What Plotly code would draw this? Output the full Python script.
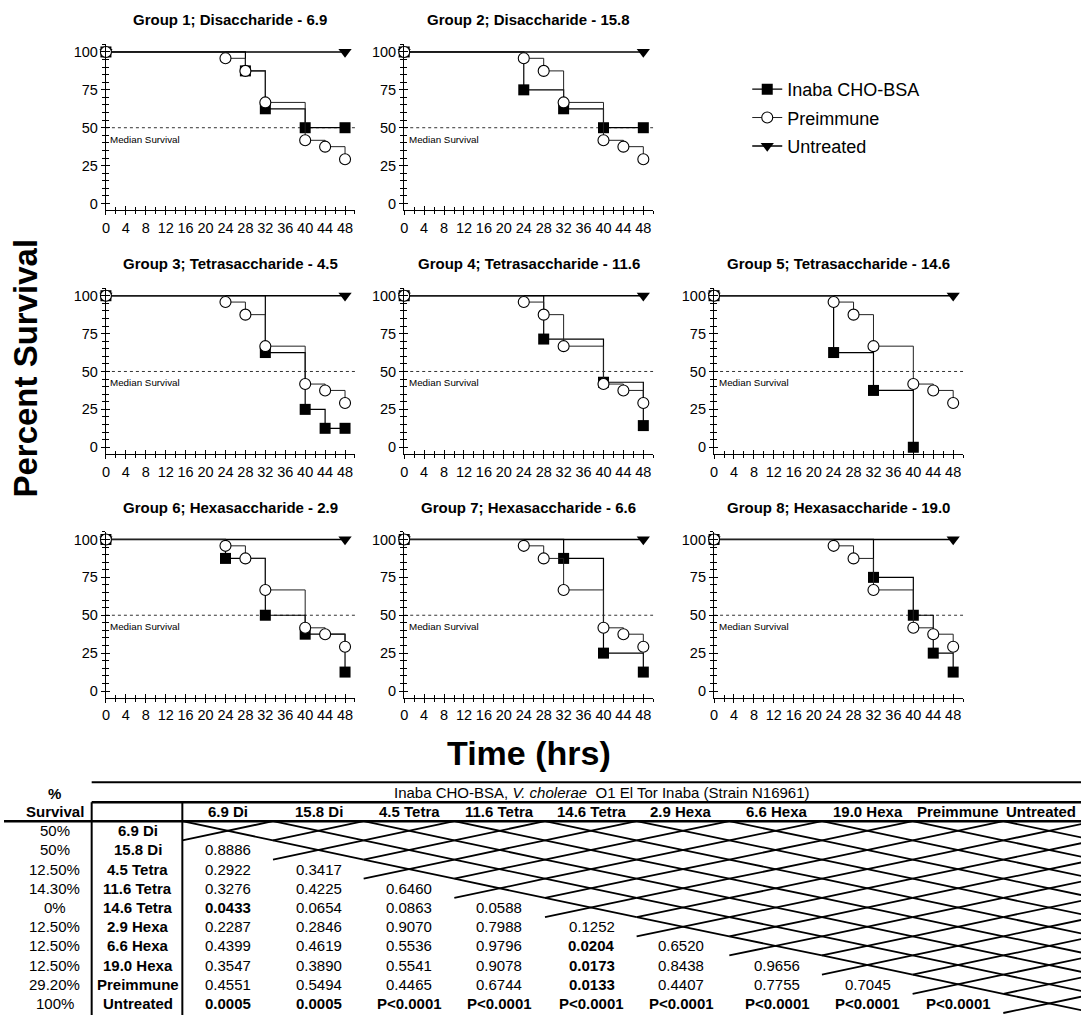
import plotly.graph_objects as go

W, H = 1081, 1015
FONT = "Liberation Sans, Arial, Helvetica, sans-serif"

# ---------------- data ----------------
group_titles = ["Group 1; Disaccharide - 6.9", "Group 2; Disaccharide - 15.8",
                "Group 3; Tetrasaccharide - 4.5", "Group 4; Tetrasaccharide - 11.6",
                "Group 5; Tetrasaccharide - 14.6", "Group 6; Hexasaccharide - 2.9",
                "Group 7; Hexasaccharide - 6.6", "Group 8; Hexasaccharide - 19.0"]

inaba_times = [[0, 28, 32, 40, 48], [0, 24, 32, 40, 48], [0, 32, 40, 44, 48], [0, 28, 40, 48],
               [0, 24, 32, 40], [0, 24, 32, 40, 48], [0, 32, 40, 48], [0, 32, 40, 44, 48]]
inaba_surv = [[100, 87.5, 62.5, 50, 50], [100, 75, 62.5, 50, 50], [100, 62.5, 25, 12.5, 12.5],
              [100, 71.4, 42.9, 14.3], [100, 62.5, 37.5, 0], [100, 87.5, 50, 37.5, 12.5],
              [100, 87.5, 25, 12.5], [100, 75, 50, 25, 12.5]]
pre_times = [0, 24, 28, 32, 40, 44, 48]
pre_surv = [100, 95.8, 87.5, 66.7, 41.7, 37.5, 29.2]
untreated_times = [0, 48]
untreated_surv = [100, 100]

series_names = ["Inaba CHO-BSA", "Preimmune", "Untreated"]

table_title = "Inaba CHO-BSA, <i>V. cholerae</i>  O1 El Tor Inaba (Strain N16961)"
table_groups = ["6.9 Di", "15.8 Di", "4.5 Tetra", "11.6 Tetra", "14.6 Tetra",
                "2.9 Hexa", "6.6 Hexa", "19.0 Hexa", "Preimmune", "Untreated"]
pct_survival = ["50%", "50%", "12.50%", "14.30%", "0%", "12.50%", "12.50%", "12.50%", "29.20%", "100%"]
p_values = [
    [],
    ["0.8886"],
    ["0.2922", "0.3417"],
    ["0.3276", "0.4225", "0.6460"],
    ["0.0433", "0.0654", "0.0863", "0.0588"],
    ["0.2287", "0.2846", "0.9070", "0.7988", "0.1252"],
    ["0.4399", "0.4619", "0.5536", "0.9796", "0.0204", "0.6520"],
    ["0.3547", "0.3890", "0.5541", "0.9078", "0.0173", "0.8438", "0.9656"],
    ["0.4551", "0.5494", "0.4465", "0.6744", "0.0133", "0.4407", "0.7755", "0.7045"],
    ["0.0005", "0.0005", "P<0.0001", "P<0.0001", "P<0.0001", "P<0.0001", "P<0.0001", "P<0.0001", "P<0.0001"],
]

# ---------------- layout geometry ----------------
panel_cells = [(0, 0), (0, 1), (1, 0), (1, 1), (1, 2), (2, 0), (2, 1), (2, 2)]
col_x0 = [102.3, 401.7, 712.7]
row_y100 = [52.0, 296.0, 540.0]
PX_HR = 5.0
PX_PCT = 1.517
XR = [0, 50]
YR = [-4.5, 105]


def px(x):
    return x / W


def py(y):
    return 1 - y / H


fig = go.Figure()
layout = {}
shapes = []
annotations = []

for k, (r, c) in enumerate(panel_cells, start=1):
    x0 = col_x0[c]
    x1 = x0 + (XR[1] - XR[0]) * PX_HR
    ytop = row_y100[r] - (YR[1] - 100) * PX_PCT
    ybot = row_y100[r] + (100 - YR[0]) * PX_PCT
    xd = [px(x0), px(x1)]
    yd = [py(ybot), py(ytop)]
    xa = f"x{k}" if k > 1 else "x"
    ya = f"y{k}" if k > 1 else "y"
    common = dict(showgrid=False, zeroline=False, color="black")
    layout[f"xaxis{k}"] = dict(domain=xd, range=XR, anchor=ya, tickmode="linear", tick0=0, dtick=4,
                               ticks="outside", ticklen=4, tickwidth=1, showline=True, linewidth=1.3,
                               linecolor="black", tickfont=dict(size=14.5, family=FONT),
                               minor=dict(tick0=0, dtick=2, ticks="outside", ticklen=3, tickwidth=1),
                               **common)
    layout[f"yaxis{k}"] = dict(domain=yd, range=YR, anchor=xa, tickmode="linear", tick0=0, dtick=25,
                               ticks="outside", ticklen=4, tickwidth=1, showline=True, linewidth=1.3,
                               linecolor="black", tickfont=dict(size=14.5, family=FONT),
                               minor=dict(tick0=0, dtick=5, ticks="outside", ticklen=3, tickwidth=1),
                               **common)
    # overlay axes to make crossing ticks
    ko = k + 8
    layout[f"xaxis{ko}"] = dict(domain=xd, range=XR, anchor=ya, overlaying=xa, tickmode="linear", tick0=0,
                                dtick=4, ticks="inside", ticklen=4, tickwidth=1, showline=False,
                                showticklabels=False,
                                minor=dict(tick0=0, dtick=2, ticks="inside", ticklen=3, tickwidth=1),
                                **common)
    layout[f"yaxis{ko}"] = dict(domain=yd, range=YR, anchor=xa, overlaying=ya, tickmode="linear", tick0=0,
                                dtick=25, ticks="inside", ticklen=4, tickwidth=1, showline=False,
                                showticklabels=False,
                                minor=dict(tick0=0, dtick=5, ticks="inside", ticklen=3, tickwidth=1),
                                **common)
    fig.add_trace(go.Scatter(x=[None], y=[None], xaxis=f"x{ko}", yaxis=f"y{ko}", showlegend=False,
                             hoverinfo="skip", mode="markers"))

    show = (k == 1)
    fig.add_trace(go.Scatter(x=untreated_times, y=untreated_surv, mode="lines+markers", xaxis=xa, yaxis=ya,
                             name=series_names[2], legendgroup="u", showlegend=show, legendrank=3,
                             line=dict(color="black", width=1.5),
                             marker=dict(symbol="triangle-down", size=11.5, color="black"),
                             cliponaxis=False))
    fig.add_trace(go.Scatter(x=inaba_times[k - 1], y=inaba_surv[k - 1], mode="lines+markers",
                             xaxis=xa, yaxis=ya, line_shape="hv",
                             name=series_names[0], legendgroup="i", showlegend=show, legendrank=1,
                             line=dict(color="black", width=1.2),
                             marker=dict(symbol="square", size=11, color="black"),
                             cliponaxis=False))
    fig.add_trace(go.Scatter(x=pre_times, y=pre_surv, mode="lines+markers", xaxis=xa, yaxis=ya,
                             line_shape="hv",
                             name=series_names[1], legendgroup="p", showlegend=show, legendrank=2,
                             line=dict(color="#222222", width=1),
                             marker=dict(symbol="circle", size=11, color="white",
                                         line=dict(color="black", width=1.1)),
                             cliponaxis=False))

    # median survival line + label
    shapes.append(dict(type="line", xref=xa, yref=ya, x0=XR[0], x1=XR[1], y0=50, y1=50,
                       line=dict(color="#333333", width=1, dash="dot"), layer="below"))
    annotations.append(dict(xref=xa, yref=ya, x=0.5, y=47.5, xanchor="left", yanchor="top",
                            text="Median Survival", showarrow=False,
                            font=dict(size=9.8, family=FONT, color="black")))
    # panel title
    annotations.append(dict(xref="paper", yref="paper", x=(xd[0] + xd[1]) / 2, y=py(row_y100[r] - 32),
                            xanchor="center", yanchor="middle", text=f"<b>{group_titles[k - 1]}</b>",
                            showarrow=False, font=dict(size=15, family=FONT, color="black")))

# big axis titles
annotations.append(dict(xref="paper", yref="paper", x=px(22), y=py(368), text="<b>Percent Survival</b>",
                        textangle=-90, showarrow=False, xanchor="center", yanchor="middle",
                        font=dict(size=33, family=FONT, color="black")))
annotations.append(dict(xref="paper", yref="paper", x=px(527), y=py(754), text="<b>Time (hrs)</b>",
                        showarrow=False, xanchor="center", yanchor="middle",
                        font=dict(size=34, family=FONT, color="black")))

# ---------------- table ----------------
T_TOP = 783.0
T_HDR1 = 803.0
T_HDR2 = 822.0
ROW_H = 19.2
col_centers = [225, 316, 407, 497, 590, 680, 776, 867, 958, 1041]
col_bounds = [179, 270, 361, 452, 543, 635, 728, 821, 912, 1003, 1095]
VL1, VL2 = 88, 179
TFS = 15


def tline(xa_, ya_, xb_, yb_, w):
    shapes.append(dict(type="line", xref="paper", yref="paper", x0=px(xa_), y0=py(ya_), x1=px(xb_),
                       y1=py(yb_), line=dict(color="black", width=w)))


def ttext(x, y, s, bold=False, size=TFS):
    annotations.append(dict(xref="paper", yref="paper", x=px(x), y=py(y), xanchor="center",
                            yanchor="middle", text=(f"<b>{s}</b>" if bold else s), showarrow=False,
                            font=dict(size=size, family=FONT, color="black")))


tline(VL1, T_TOP, W, T_TOP, 2)
tline(VL1, T_HDR1, W, T_HDR1, 2.5)
tline(0, T_HDR2, W, T_HDR2, 2.5)
tline(VL1, T_HDR1, VL1, H + 2, 2)
tline(VL2, T_HDR1, VL2, H + 2, 2)

ttext(600, (T_TOP + T_HDR1) / 2 + 0.5, table_title)
ttext(51, (T_TOP + T_HDR1) / 2 + 1, "%", bold=True)
ttext(51, (T_HDR1 + T_HDR2) / 2, "Survival", bold=True)
for ci, g in enumerate(table_groups):
    ttext(col_centers[ci], (T_HDR1 + T_HDR2) / 2, g, bold=True)

for ri, g in enumerate(table_groups):
    top = T_HDR2 + ri * ROW_H
    bot = top + ROW_H
    yc = top + ROW_H / 2
    ttext(51, yc, pct_survival[ri])
    ttext(134, yc, g, bold=True)
    for ci, v in enumerate(p_values[ri]):
        sig = v.startswith("P<") or float(v) < 0.05
        ttext(col_centers[ci], yc, v, bold=sig)
    for ci in range(ri, len(table_groups)):
        xl, xr = col_bounds[ci], col_bounds[ci + 1]
        tline(xl, top, xr, bot, 1.8)
        tline(xl, bot, xr, top, 1.8)

layout.update(dict(
    width=W, height=H, margin=dict(l=0, r=0, t=0, b=0),
    paper_bgcolor="white", plot_bgcolor="white",
    font=dict(family=FONT, color="black"),
    showlegend=True,
    legend=dict(x=px(746), y=py(71), xanchor="left", yanchor="top", font=dict(size=18, family=FONT),
                traceorder="grouped", tracegroupgap=2, bgcolor="rgba(0,0,0,0)", borderwidth=0),
    shapes=shapes, annotations=annotations,
))
fig.update_layout(**layout)
fig.write_html("out.html", config={"displayModeBar": False},
               post_script="document.body.style.margin='0px';")
